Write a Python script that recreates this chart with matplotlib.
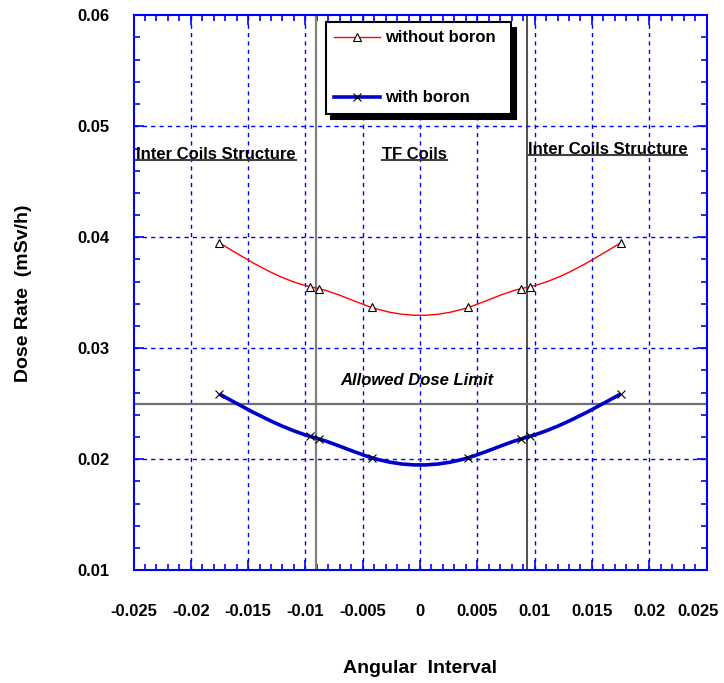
import numpy as np
import matplotlib.pyplot as plt
from matplotlib.path import Path
from matplotlib.patches import PathPatch
from matplotlib.lines import Line2D
from matplotlib.ticker import MultipleLocator
from matplotlib.transforms import ScaledTranslation

# ----------------------------------
# data
# ----------------------------------
angle = [-0.0175, -0.0096, -0.0088, -0.0042, 0.0042, 0.0088, 0.0096, 0.0175]
dose_no_boron = [0.0395, 0.03555, 0.03537, 0.03368, 0.03368, 0.03537, 0.03555, 0.0395]
dose_boron = [0.02588, 0.02207, 0.02183, 0.02014, 0.02014, 0.02183, 0.02207, 0.02588]

dose_limit = 0.025
coil_edges = [-0.0091, 0.0093]

x_ticks = [-0.025, -0.02, -0.015, -0.01, -0.005, 0, 0.005, 0.01, 0.015, 0.02, 0.025]
x_tick_labels = ["-0.025", "-0.02", "-0.015", "-0.01", "-0.005", "0",
                 "0.005", "0.01", "0.015", "0.02", "0.025"]
y_ticks = [0.01, 0.02, 0.03, 0.04, 0.05, 0.06]
y_tick_labels = ["0.01", "0.02", "0.03", "0.04", "0.05", "0.06"]

plt.rcParams["font.family"] = ["Liberation Sans", "DejaVu Sans"]
plt.rcParams["font.weight"] = "bold"


def spline_path(x, y):
    # natural cubic spline through the points, written as bezier segments
    x = np.asarray(x, float)
    y = np.asarray(y, float)
    n = len(x)
    h = np.diff(x)
    A = np.zeros((n, n))
    b = np.zeros(n)
    A[0, 0] = A[-1, -1] = 1
    for i in range(1, n - 1):
        A[i, i - 1] = h[i - 1]
        A[i, i] = 2 * (h[i - 1] + h[i])
        A[i, i + 1] = h[i]
        b[i] = 6 * ((y[i + 1] - y[i]) / h[i] - (y[i] - y[i - 1]) / h[i - 1])
    M = np.linalg.solve(A, b)
    verts = [(x[0], y[0])]
    codes = [Path.MOVETO]
    for i in range(n - 1):
        s = (y[i + 1] - y[i]) / h[i]
        d0 = s - h[i] * (2 * M[i] + M[i + 1]) / 6
        d1 = s + h[i] * (M[i] + 2 * M[i + 1]) / 6
        verts += [(x[i] + h[i] / 3, y[i] + h[i] * d0 / 3),
                  (x[i + 1] - h[i] / 3, y[i + 1] - h[i] * d1 / 3),
                  (x[i + 1], y[i + 1])]
        codes += [Path.CURVE4] * 3
    return Path(verts, codes)


fig = plt.figure(figsize=(7.24, 6.83), dpi=100)
ax = fig.add_axes([133.5 / 724, 1 - 570.3 / 683, 573 / 724, 555 / 683])

ax.set_xlim(-0.025, 0.025)
ax.set_ylim(0.01, 0.06)

# grid
for xv in x_ticks[1:-1]:
    ax.axvline(xv, color="#0000FF", lw=1, ls=(0, (3, 3)), zorder=1)
for yv in y_ticks[1:-1]:
    ax.axhline(yv, color="#0000FF", lw=1, ls=(0, (3, 3)), zorder=1)

# region borders and dose limit
ax.axvline(coil_edges[0], color="#808080", lw=1.6, zorder=2)
ax.axvline(coil_edges[1], color="#303030", lw=1.2, zorder=2)
ax.axhline(dose_limit, color="#707070", lw=1.6, zorder=2)

# curves
ax.add_patch(PathPatch(spline_path(angle, dose_no_boron), fill=False,
                       edgecolor="#FF0000", lw=1, zorder=3))
ax.add_patch(PathPatch(spline_path(angle, dose_boron), fill=False,
                       edgecolor="#0000CC", lw=2.6, zorder=3))
ax.plot(angle, dose_no_boron, ls="none", marker="^", ms=5.5, mfc="white",
        mec="black", mew=0.8, zorder=4)
ax.plot(angle, dose_boron, ls="none", marker="x", ms=5.5, color="black",
        mew=0.8, zorder=4)

# axes styling
for sp in ax.spines.values():
    sp.set_color("#0000FF")
    sp.set_linewidth(1.5)
ax.set_xticks(x_ticks)
ax.set_xticklabels(x_tick_labels)
ax.set_yticks(y_ticks)
ax.set_yticklabels(y_tick_labels)
ax.xaxis.set_minor_locator(MultipleLocator(0.001))
ax.yaxis.set_minor_locator(MultipleLocator(0.002))
ax.tick_params(which="both", direction="in", top=True, right=True,
               color="#0000FF", labelsize=12)
ax.tick_params(which="major", length=7, width=1.2)
ax.tick_params(which="minor", length=4, width=1.2)
ax.tick_params(axis="x", pad=24)
ax.tick_params(axis="y", pad=17)

# keep the last x label inside the picture
last = ax.get_xticklabels()[-1]
last.set_transform(last.get_transform() + ScaledTranslation(-6 / 72, 0, fig.dpi_scale_trans))

ax.set_xlabel("Angular  Interval", fontsize=14, fontweight="bold", labelpad=30)
ax.set_ylabel("Dose Rate  (mSv/h)", fontsize=14, fontweight="bold", labelpad=33)

# region labels
t1 = ax.text(-0.02474, 0.0475, "Inter Coils Structure", fontsize=12,
             fontweight="bold", ha="left", va="center")
t2 = ax.text(-0.0005, 0.0475, "TF Coils", fontsize=12, fontweight="bold",
             ha="center", va="center")
t3 = ax.text(0.02332, 0.0479, "Inter Coils Structure", fontsize=12,
             fontweight="bold", ha="right", va="center")
ax.text(-0.0003, 0.0271, "Allowed Dose Limit", fontsize=12, fontweight="bold",
        style="italic", ha="center", va="center")

# legend
handles = [
    Line2D([], [], color="#FF0000", lw=1, marker="^", ms=5.5, mfc="white",
           mec="black", mew=0.8),
    Line2D([], [], color="#0000CC", lw=2.6, marker="x", ms=5.5, mec="black",
           mew=0.8),
]
leg = ax.legend(handles, ["without boron", "with boron"], loc="upper left",
                bbox_to_anchor=(0.3354, 0.82, 0.3229, 0.1679), mode="expand",
                borderaxespad=0, fontsize=12, handlelength=2.75,
                handletextpad=0.3, labelspacing=2.7, borderpad=0.5,
                fancybox=False, framealpha=1, edgecolor="black",
                shadow={"ox": 4, "oy": -4, "facecolor": "black",
                        "edgecolor": "black", "alpha": 1})
leg.get_frame().set_linewidth(1.5)
for txt in leg.get_texts():
    txt.set_fontweight("bold")

# underline the region labels
fig.canvas.draw()
renderer = fig.canvas.get_renderer()
inv = fig.transFigure.inverted()
for t in (t1, t2, t3):
    bb = t.get_window_extent(renderer)
    (x0, y0), (x1, _) = inv.transform([(bb.x0, bb.y0 + 2), (bb.x1, bb.y0 + 2)])
    fig.add_artist(Line2D([x0, x1], [y0, y0], color="#404040", lw=1.5))

fig.savefig("out.png", dpi=100)
